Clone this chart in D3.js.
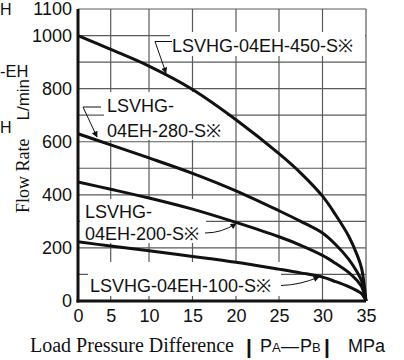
<!DOCTYPE html>
<html><head><meta charset="utf-8">
<script src="https://cdn.jsdelivr.net/npm/d3@7"></script>
<style>
html,body{margin:0;padding:0;background:#fff;}
svg{display:block;}
</style></head>
<body>
<svg id="chart" width="404" height="360"></svg>
<script>
// ---- data ----
const pressure = [0, 5, 10, 15, 20, 25, 27.5, 30, 31.5, 33, 34, 34.5, 35];
const flow450 = [1000, 948, 885, 797, 683, 555, 482, 395, 325, 245, 172, 122, 0];
const flow280 = [630, 588, 539, 481, 415, 340, 300, 256, 213, 158, 108, 75, 0];
const flow200 = [448, 421, 388, 346, 296, 242, 210, 172, 142, 108, 76, 54, 0];
const flow100 = [223, 207, 189, 168, 146, 120, 106, 90, 73, 54, 38, 27, 0];
const seriesNames = ["LSVHG-04EH-450-S※", "LSVHG-04EH-280-S※", "LSVHG-04EH-200-S※", "LSVHG-04EH-100-S※"];
const xTickValues = [0, 5, 10, 15, 20, 25, 30, 35];
const yTickValues = [0, 200, 400, 600, 800, 1000, 1100];
const yGridValues = [0, 100, 200, 300, 400, 500, 600, 700, 800, 900, 1000, 1100];

const svg = d3.select("#chart");
const SANS = "'Liberation Sans', Arial, Helvetica, sans-serif";
const SERIF = "'Liberation Serif', 'Times New Roman', serif";

// x scale in the reference is slightly compressed between 0 and 10
const x = d3.scaleLinear().domain(xTickValues).range([78, 110.7, 149, 192.5, 236, 279, 322.5, 366]);
const y = d3.scaleLinear().domain([0, 1100]).range([301, 9]);

// ---- grid ----
const grid = svg.append("g");
grid.selectAll("line.v").data(xTickValues).join("line")
  .attr("x1", d => x(d)).attr("x2", d => x(d)).attr("y1", y(0)).attr("y2", y(1100))
  .attr("stroke", "#5a5a5a").attr("stroke-width", 1.2);
grid.selectAll("line.h").data(yGridValues).join("line")
  .attr("x1", x(0)).attr("x2", x(35)).attr("y1", d => y(d)).attr("y2", d => y(d))
  .attr("stroke", "#5a5a5a").attr("stroke-width", 1.2);

// ---- label backgrounds ----
const boxes = [
  [170, 32, 195, 24],
  [104, 92, 123, 48],
  [80, 199, 126, 44],
  [88, 262, 193, 34]
];
svg.append("g").selectAll("rect").data(boxes).join("rect")
  .attr("x", d => d[0]).attr("y", d => d[1]).attr("width", d => d[2]).attr("height", d => d[3])
  .attr("fill", "#fff");

// ---- arrow marker ----
svg.append("defs").append("marker")
  .attr("id", "arr").attr("viewBox", "0 0 10 10").attr("refX", 9).attr("refY", 5)
  .attr("markerWidth", 9).attr("markerHeight", 6).attr("markerUnits", "userSpaceOnUse")
  .attr("orient", "auto")
  .append("path").attr("d", "M0,0 L10,5 L0,10 Z").attr("fill", "#111");

// ---- leaders ----
const leaders = svg.append("g").attr("fill", "none").attr("stroke", "#111").attr("stroke-width", 1);
leaders.append("path").attr("d", "M172,41.5 L155,41.5");
leaders.append("path").attr("d", "M155,41.5 L166,73").attr("marker-end", "url(#arr)");
leaders.append("path").attr("d", "M101,107 L83,107");
leaders.append("path").attr("d", "M83,107 L97,137").attr("marker-end", "url(#arr)");
leaders.append("path").attr("d", "M205,233 Q222,233 236,223.5").attr("marker-end", "url(#arr)");
leaders.append("path").attr("d", "M281,285.5 Q300,285 319,277").attr("marker-end", "url(#arr)");

// ---- series labels ----
const lab = svg.append("g").attr("font-family", SANS).attr("font-size", 18).attr("fill", "#111");
lab.append("text").attr("x", 172).attr("y", 52).text(seriesNames[0]);
lab.append("text").attr("x", 107).attr("y", 112).text("LSVHG-");
lab.append("text").attr("x", 107).attr("y", 137).text(seriesNames[1].slice(6));
lab.append("text").attr("x", 85).attr("y", 218).text("LSVHG-");
lab.append("text").attr("x", 85).attr("y", 240).text(seriesNames[2].slice(6));
lab.append("text").attr("x", 90).attr("y", 292).text(seriesNames[3]);

// ---- curves ----
const line = d3.line().x(d => x(d[0])).y(d => y(d[1])).curve(d3.curveCatmullRom.alpha(0.5));
const series = [flow450, flow280, flow200, flow100];
svg.append("g").selectAll("path").data(series).join("path")
  .attr("d", s => line(pressure.map((p, i) => [p, s[i]])))
  .attr("fill", "none").attr("stroke", "#111").attr("stroke-width", 3)
  .attr("stroke-linejoin", "round");

// ---- axes ----
const yAxis = svg.append("g").attr("transform", `translate(${x(0)},0)`)
  .call(d3.axisLeft(y).tickValues(yTickValues).tickSize(0).tickPadding(6).tickFormat(d3.format("d")));
const xAxis = svg.append("g").attr("transform", `translate(0,${y(0)})`)
  .call(d3.axisBottom(x).tickValues(xTickValues).tickSize(0).tickPadding(8).tickFormat(d3.format("d")));
[yAxis, xAxis].forEach(a => {
  a.select(".domain").attr("stroke", "#111").attr("stroke-width", 3);
  a.selectAll("text").attr("font-family", SANS).attr("font-size", 18).attr("fill", "#111");
});
yAxis.select(".domain").attr("d", `M0,${y(0) + 1.5}V${y(1100)}`);
xAxis.select(".domain").attr("d", `M${-1.5 + x(0)},0H${x(35)}`);

// ---- axis titles ----
const yt = svg.append("text").attr("transform", "translate(29,213) rotate(-90)").attr("fill", "#111");
yt.append("tspan").attr("font-family", SERIF).attr("font-size", 18).text("Flow Rate");
yt.append("tspan").attr("font-family", SANS).attr("font-size", 17).attr("dx", 18).text("L/min");

svg.append("text").attr("x", 30).attr("y", 352).attr("font-family", SERIF).attr("font-size", 20)
  .attr("fill", "#111").text("Load Pressure Difference");
const xt = svg.append("g").attr("font-family", SANS).attr("fill", "#111");
xt.append("text").attr("x", 249).attr("y", 354).attr("text-anchor", "middle").attr("font-size", 21).attr("font-weight", "bold").text("|");
xt.append("text").attr("x", 260).attr("y", 352).attr("font-size", 18).text("P");
xt.append("text").attr("x", 272).attr("y", 352).attr("font-size", 13).text("A");
xt.append("text").attr("x", 281).attr("y", 352).attr("font-size", 18).text("—");
xt.append("text").attr("x", 300).attr("y", 352).attr("font-size", 18).text("P");
xt.append("text").attr("x", 312).attr("y", 352).attr("font-size", 13).text("B");
xt.append("text").attr("x", 327).attr("y", 354).attr("text-anchor", "middle").attr("font-size", 21).attr("font-weight", "bold").text("|");
xt.append("text").attr("x", 348).attr("y", 352).attr("font-size", 18).text("MPa");

// ---- text fragments at the left edge (from the adjacent chart) ----
const frag = svg.append("g").attr("font-family", SANS).attr("fill", "#111");
frag.append("text").attr("x", 0).attr("y", 15).attr("font-size", 16).text("H");
frag.append("text").attr("x", 0).attr("y", 77).attr("font-size", 16.5).text("-EH");
frag.append("text").attr("x", 0).attr("y", 133).attr("font-size", 16).text("H");
</script>
</body></html>
